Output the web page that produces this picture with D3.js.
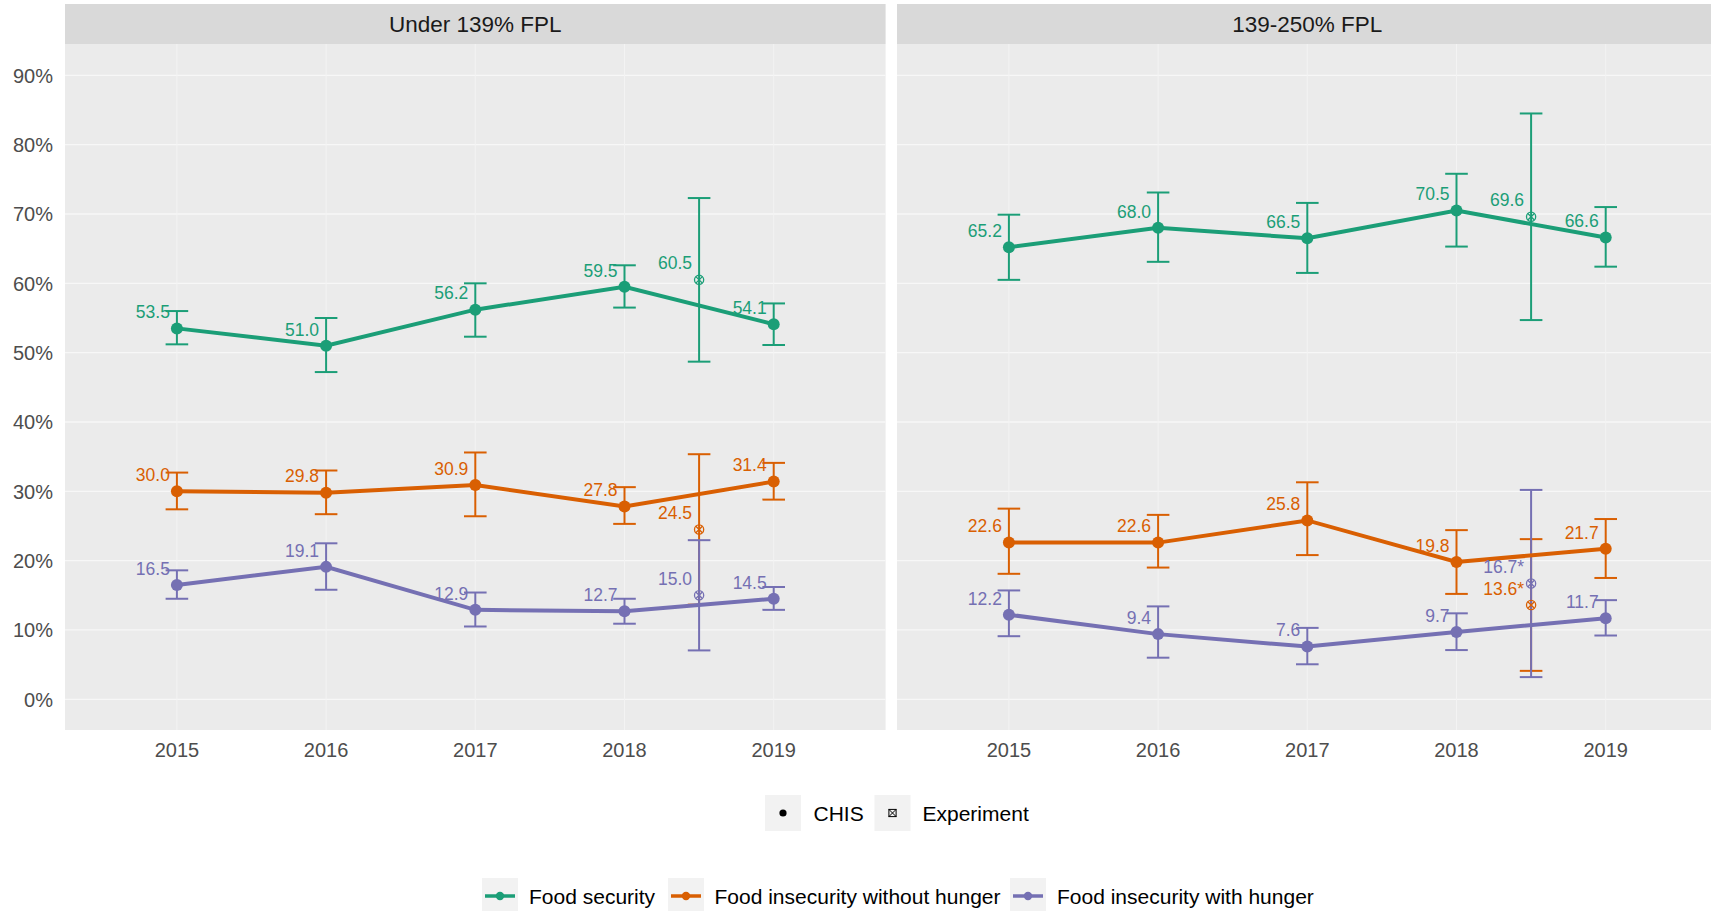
<!DOCTYPE html>
<html><head><meta charset="utf-8">
<script src="https://cdn.jsdelivr.net/npm/d3@7"></script>
<style>html,body{margin:0;padding:0;background:#fff;overflow:hidden}</style>
</head><body>
<svg id="chart" width="1711" height="911"></svg>
<script>
// ---------- data ----------
const years = [2015, 2016, 2017, 2018, 2019];
const panelTitles = ["Under 139% FPL", "139-250% FPL"];
const seriesNames = ["Food security", "Food insecurity without hunger", "Food insecurity with hunger"];
const seriesColors = ["#1B9E77", "#D95F02", "#7570B3"];
const yTicks = [0, 10, 20, 30, 40, 50, 60, 70, 80, 90];
const shapeNames = ["CHIS", "Experiment"];

// Panel 1: Under 139% FPL (CHIS)
const p1Secure   = [53.5, 51.0, 56.2, 59.5, 54.1];
const p1SecureLo = [51.2, 47.2, 52.3, 56.5, 51.1];
const p1SecureHi = [56.0, 55.0, 60.0, 62.6, 57.1];
const p1NoHunger   = [30.0, 29.8, 30.9, 27.8, 31.4];
const p1NoHungerLo = [27.4, 26.7, 26.4, 25.3, 28.8];
const p1NoHungerHi = [32.7, 33.0, 35.6, 30.6, 34.1];
const p1Hunger   = [16.5, 19.1, 12.9, 12.7, 14.5];
const p1HungerLo = [14.5, 15.8, 10.5, 10.9, 12.9];
const p1HungerHi = [18.6, 22.5, 15.4, 14.5, 16.2];

// Panel 2: 139-250% FPL (CHIS)
const p2Secure   = [65.2, 68.0, 66.5, 70.5, 66.6];
const p2SecureLo = [60.5, 63.1, 61.5, 65.3, 62.4];
const p2SecureHi = [69.9, 73.1, 71.6, 75.8, 71.0];
const p2NoHunger   = [22.6, 22.6, 25.8, 19.8, 21.7];
const p2NoHungerLo = [18.1, 19.0, 20.8, 15.2, 17.5];
const p2NoHungerHi = [27.5, 26.6, 31.3, 24.4, 26.0];
const p2Hunger   = [12.2, 9.4, 7.6, 9.7, 11.7];
const p2HungerLo = [9.1, 6.0, 5.05, 7.1, 9.2];
const p2HungerHi = [15.7, 13.4, 10.3, 12.4, 14.3];

// Experiment (at 2018.5), order: secure, no hunger, hunger
const expX = 2018.5;
const p1Exp   = [60.5, 24.5, 15.0];
const p1ExpLo = [48.7, 13.65, 7.05];
const p1ExpHi = [72.3, 35.35, 22.95];
const p1ExpStar = [false, false, false];
const p2Exp   = [69.6, 13.6, 16.7];
const p2ExpLo = [54.7, 4.1, 3.2];
const p2ExpHi = [84.5, 23.1, 30.2];
const p2ExpStar = [false, true, true];

// ---------- assemble ----------
const panels = [
  {title: panelTitles[0],
   series: [[p1Secure,p1SecureLo,p1SecureHi],[p1NoHunger,p1NoHungerLo,p1NoHungerHi],[p1Hunger,p1HungerLo,p1HungerHi]],
   exp: [p1Exp,p1ExpLo,p1ExpHi,p1ExpStar]},
  {title: panelTitles[1],
   series: [[p2Secure,p2SecureLo,p2SecureHi],[p2NoHunger,p2NoHungerLo,p2NoHungerHi],[p2Hunger,p2HungerLo,p2HungerHi]],
   exp: [p2Exp,p2ExpLo,p2ExpHi,p2ExpStar]}
];

const svg = d3.select("#chart");
const font = "'Liberation Sans', Arial, sans-serif";
const panelW = 820.6, panelTop = 44, panelBottom = 730;
const panelLefts = [65, 897];
const y = d3.scaleLinear().domain([-4.43, 94.52]).range([panelBottom, panelTop]);
const x = d3.scaleLinear().domain([2014.25, 2019.75]).range([0, panelW]);

panels.forEach((p, pi) => {
  const g = svg.append("g").attr("transform", `translate(${panelLefts[pi]},0)`);
  // strip
  g.append("rect").attr("x",0).attr("y",4).attr("width",panelW).attr("height",panelTop-4).attr("fill","#D9D9D9");
  g.append("text").attr("x",panelW/2).attr("y",32).attr("text-anchor","middle")
    .attr("font-family",font).attr("font-size",22.5).attr("fill","#1A1A1A").text(p.title);
  // panel bg
  g.append("rect").attr("x",0).attr("y",panelTop).attr("width",panelW).attr("height",panelBottom-panelTop).attr("fill","#EBEBEB");
  // grid
  g.selectAll(".hg").data(yTicks).enter().append("line")
    .attr("x1",0).attr("x2",panelW).attr("y1",d=>y(d)).attr("y2",d=>y(d))
    .attr("stroke","#F7F7F7").attr("stroke-width",1.3);
  g.selectAll(".vg").data(years).enter().append("line")
    .attr("x1",d=>x(d)).attr("x2",d=>x(d)).attr("y1",panelTop).attr("y2",panelBottom)
    .attr("stroke","#F3F3F3").attr("stroke-width",1);
  // x axis labels
  g.selectAll(".xl").data(years).enter().append("text")
    .attr("x",d=>x(d)).attr("y",756.5).attr("text-anchor","middle")
    .attr("font-family",font).attr("font-size",20).attr("fill","#4D4D4D").text(d=>d);

  const capW = 11.3;
  const drawBar = (xv, lo, hi, col) => {
    g.append("line").attr("x1",x(xv)).attr("x2",x(xv)).attr("y1",y(lo)).attr("y2",y(hi))
      .attr("stroke",col).attr("stroke-width",2);
    [lo,hi].forEach(v => g.append("line").attr("x1",x(xv)-capW).attr("x2",x(xv)+capW)
      .attr("y1",y(v)).attr("y2",y(v)).attr("stroke",col).attr("stroke-width",2));
  };
  // error bars
  p.series.forEach((s, si) => {
    const col = seriesColors[si];
    years.forEach((yr, i) => drawBar(yr, s[1][i], s[2][i], col));
    drawBar(expX, p.exp[1][si], p.exp[2][si], col);
  });
  // lines
  const line = d3.line().x(d=>x(d[0])).y(d=>y(d[1]));
  p.series.forEach((s, si) => {
    g.append("path").datum(years.map((yr,i)=>[yr,s[0][i]])).attr("d",line)
      .attr("fill","none").attr("stroke",seriesColors[si]).attr("stroke-width",4);
  });
  // points
  p.series.forEach((s, si) => {
    g.selectAll(null).data(years.map((yr,i)=>[yr,s[0][i]])).enter().append("circle")
      .attr("cx",d=>x(d[0])).attr("cy",d=>y(d[1])).attr("r",6).attr("fill",seriesColors[si]);
  });
  // experiment markers (circle with x)
  p.series.forEach((s, si) => {
    const cx = x(expX), cy = y(p.exp[0][si]), r = 4.6, col = seriesColors[si];
    g.append("circle").attr("cx",cx).attr("cy",cy).attr("r",r).attr("fill","none").attr("stroke",col).attr("stroke-width",1.3);
    const k = r*0.707;
    g.append("path").attr("d",`M${cx-k},${cy-k}L${cx+k},${cy+k}M${cx-k},${cy+k}L${cx+k},${cy-k}`)
      .attr("stroke",col).attr("stroke-width",1.3);
  });
  // labels
  p.series.forEach((s, si) => {
    const col = seriesColors[si];
    years.forEach((yr, i) => {
      g.append("text").attr("x",x(yr)-7).attr("y",y(s[0][i])-10.2).attr("text-anchor","end")
        .attr("font-family",font).attr("font-size",17.5).attr("fill",col).text(s[0][i].toFixed(1));
    });
    g.append("text").attr("x",x(expX)-7).attr("y",y(p.exp[0][si])-10.5).attr("text-anchor","end")
      .attr("font-family",font).attr("font-size",17.5).attr("fill",col)
      .text(p.exp[0][si].toFixed(1) + (p.exp[3][si] ? "*" : ""));
  });
});

// y axis labels
svg.selectAll(".yl").data(yTicks).enter().append("text")
  .attr("x",53).attr("y",d=>y(d)+7.5).attr("text-anchor","end")
  .attr("font-family",font).attr("font-size",20).attr("fill","#4D4D4D").text(d=>d+"%");

// ---------- legends ----------
const lg1 = svg.append("g");
const l1Boxes = [765, 874.5];
const l1Text = [813.5, 922.5];
shapeNames.forEach((nm, i) => {
  lg1.append("rect").attr("x",l1Boxes[i]).attr("y",795).attr("width",36).attr("height",36).attr("fill","#F2F2F2");
  lg1.append("text").attr("x",l1Text[i]).attr("y",820.5).attr("font-family",font).attr("font-size",21).attr("fill","#000").text(nm);
});
lg1.append("circle").attr("cx",l1Boxes[0]+18).attr("cy",813).attr("r",3.6).attr("fill","#000");
{
  const cx = l1Boxes[1]+18, cy = 813, h = 3.6;
  lg1.append("rect").attr("x",cx-h).attr("y",cy-h).attr("width",2*h).attr("height",2*h).attr("fill","none").attr("stroke","#000").attr("stroke-width",1);
  lg1.append("path").attr("d",`M${cx-h},${cy-h}L${cx+h},${cy+h}M${cx-h},${cy+h}L${cx+h},${cy-h}`).attr("stroke","#000").attr("stroke-width",1);
}
const lg2 = svg.append("g");
const l2Boxes = [482, 668, 1010];
const l2Text = [529, 714.5, 1057];
seriesNames.forEach((nm, i) => {
  lg2.append("rect").attr("x",l2Boxes[i]).attr("y",878).attr("width",36).attr("height",36).attr("fill","#F2F2F2");
  lg2.append("line").attr("x1",l2Boxes[i]+3).attr("x2",l2Boxes[i]+33).attr("y1",896).attr("y2",896)
    .attr("stroke",seriesColors[i]).attr("stroke-width",3.5);
  lg2.append("circle").attr("cx",l2Boxes[i]+18).attr("cy",896).attr("r",4.2).attr("fill",seriesColors[i]);
  lg2.append("text").attr("x",l2Text[i]).attr("y",903.5).attr("font-family",font).attr("font-size",21).attr("fill","#000").text(nm);
});
</script>
</body></html>
